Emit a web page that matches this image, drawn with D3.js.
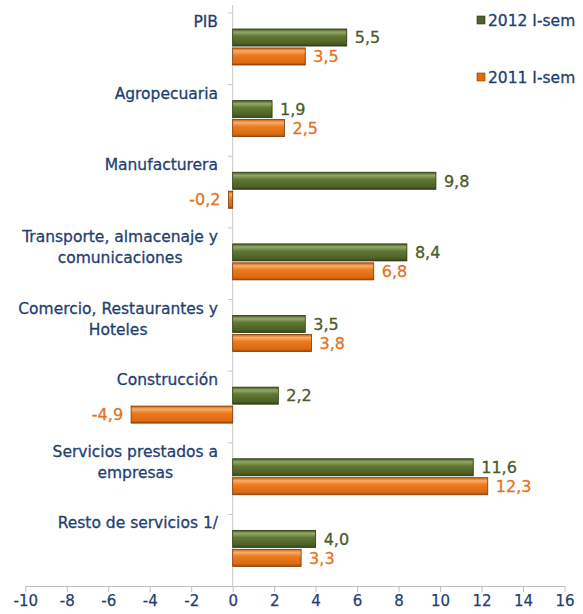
<!DOCTYPE html>
<html>
<head>
<meta charset="utf-8">
<script src="https://cdn.jsdelivr.net/npm/d3@7/dist/d3.min.js"></script>
<style>
  body { margin: 0; background: #fff; }
  text { font-family: "DejaVu Sans", sans-serif; }
</style>
</head>
<body>
<svg width="583" height="614"></svg>
<script>
// sectores y tasas de crecimiento (%)
var categories = [
  ["PIB"],
  ["Agropecuaria"],
  ["Manufacturera"],
  ["Transporte, almacenaje y", "comunicaciones"],
  ["Comercio, Restaurantes y", "Hoteles"],
  ["Construcción"],
  ["Servicios prestados a", "empresas"],
  ["Resto de servicios 1/"]
];
var series = ["2012 I-sem", "2011 I-sem"];
var values2012 = [5.5, 1.9, 9.8, 8.4, 3.5, 2.2, 11.6, 4.0];
var values2011 = [3.5, 2.5, -0.2, 6.8, 3.8, -4.9, 12.3, 3.3];
var xTicks = [-10, -8, -6, -4, -2, 0, 2, 4, 6, 8, 10, 12, 14, 16];

var svg = d3.select("svg");
var blue = "#1f3f74";

var x = d3.scaleLinear().domain([-10, 16]).range([25.3, 564.5]);
var y = d3.scaleBand().domain(d3.range(categories.length)).range([13, 586]);
var ySub = d3.scaleBand().domain(series).range([16, 52]).paddingInner(0.1);

var fmt = function(v) { return d3.format(".1f")(v).replace("−", "-").replace(".", ","); };

// gradientes tipo cilindro
var defs = svg.append("defs");
function grad(id, stops) {
  var g = defs.append("linearGradient").attr("id", id)
      .attr("x1", 0).attr("y1", 0).attr("x2", 0).attr("y2", 1);
  stops.forEach(function(s) {
    g.append("stop").attr("offset", s[0]).attr("stop-color", s[1]);
  });
}
grad("gGreen", [[0, "#46591f"], [0.18, "#93a965"], [0.42, "#617834"], [0.85, "#4b6024"], [1, "#33431a"]]);
grad("gOrange", [[0, "#c9600e"], [0.18, "#fbae6a"], [0.42, "#ec7a1e"], [0.85, "#dc6a10"], [1, "#a84a06"]]);

var colors = { "2012 I-sem": "url(#gGreen)", "2011 I-sem": "url(#gOrange)" };
var strokes = { "2012 I-sem": "#2a3612", "2011 I-sem": "#7a3805" };
var labelColors = { "2012 I-sem": "#4b5a2c", "2011 I-sem": "#e4721e" };
var legendColors = { "2012 I-sem": "#4f6228", "2011 I-sem": "#e46c0a" };

// eje x
var axis = svg.append("g")
    .attr("transform", "translate(0," + 586 + ")")
    .call(d3.axisBottom(x).tickValues(xTicks).tickSize(6).tickSizeOuter(0)
      .tickFormat(function(d) { return String(d); }));
axis.select(".domain").attr("stroke", "#bfbfbf");
axis.selectAll(".tick line").attr("stroke", "#bfbfbf");
axis.selectAll(".tick text")
    .attr("fill", blue)
    .attr("stroke", blue).attr("stroke-width", 0.25)
    .style("font-family", "DejaVu Sans")
    .style("font-size", "15px");

// linea del cero
svg.append("line")
    .attr("x1", x(0)).attr("x2", x(0))
    .attr("y1", 5).attr("y2", 586)
    .attr("stroke", "#c8c8c8");

svg.append("g").selectAll("line")
  .data(d3.range(categories.length))
  .enter().append("line")
    .attr("x1", x(0) - 5).attr("x2", x(0))
    .attr("y1", function(i) { return y(i); })
    .attr("y2", function(i) { return y(i); })
    .attr("stroke", "#c8c8c8");

// etiquetas de categorias (bloque centrado, borde derecho en 218)
svg.append("g").selectAll("text")
  .data(categories)
  .enter().append("text")
    .attr("text-anchor", "middle")
    .attr("fill", blue)
    .attr("stroke", blue).attr("stroke-width", 0.3)
    .style("font-size", "15.5px")
    .each(function(lines, i) {
      var t = d3.select(this);
      var spans = lines.map(function(l, j) {
        return t.append("tspan")
          .attr("y", y(i) + 14 + j * 21)
          .text(l);
      });
      var w = d3.max(spans, function(s) { return s.node().getComputedTextLength(); });
      spans.forEach(function(s) { s.attr("x", 218 - w / 2); });
    });

// barras
var rows = [];
categories.forEach(function(c, i) {
  rows.push({ i: i, s: series[0], v: values2012[i] });
  rows.push({ i: i, s: series[1], v: values2011[i] });
});

svg.append("g").selectAll("rect")
  .data(rows)
  .enter().append("rect")
    .attr("x", function(d) { return x(Math.min(0, d.v)); })
    .attr("y", function(d) { return y(d.i) + ySub(d.s); })
    .attr("width", function(d) { return Math.abs(x(d.v) - x(0)); })
    .attr("height", ySub.bandwidth())
    .attr("fill", function(d) { return colors[d.s]; })
    .attr("stroke", function(d) { return strokes[d.s]; })
    .attr("stroke-width", 0.8);

svg.append("g").selectAll("text")
  .data(rows)
  .enter().append("text")
    .attr("x", function(d) { return d.v >= 0 ? x(d.v) + 8 : x(d.v) - 8; })
    .attr("y", function(d) { return y(d.i) + ySub(d.s) + ySub.bandwidth() / 2; })
    .attr("dy", "0.36em")
    .attr("text-anchor", function(d) { return d.v >= 0 ? "start" : "end"; })
    .attr("fill", function(d) { return labelColors[d.s]; })
    .attr("stroke", function(d) { return labelColors[d.s]; })
    .attr("stroke-width", 0.3)
    .style("font-size", "16px")
    .text(function(d) { return fmt(d.v); });

// leyenda
var legend = svg.append("g").selectAll("g")
  .data(series)
  .enter().append("g")
    .attr("transform", function(d, i) { return "translate(477," + (20 + i * 57) + ")"; });

legend.append("rect")
    .attr("x", 0).attr("y", -4)
    .attr("width", 8).attr("height", 8)
    .attr("fill", function(d) { return legendColors[d]; })
    .attr("stroke", function(d) { return strokes[d]; })
    .attr("stroke-width", 0.6);

legend.append("text")
    .attr("x", 11).attr("dy", "0.36em")
    .attr("fill", blue)
    .attr("stroke", blue).attr("stroke-width", 0.3)
    .style("font-size", "15.5px")
    .text(function(d) { return d; });
</script>
</body>
</html>
